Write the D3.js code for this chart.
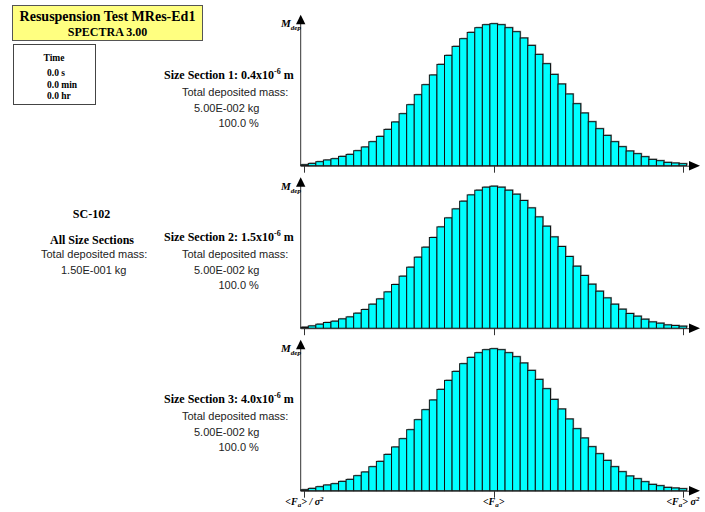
<!DOCTYPE html>
<html>
<head>
  <meta charset="utf-8">
  <title>Resuspension Test MRes-Ed1</title>
  <script src="https://d3js.org/d3.v7.min.js"></script>
  <style>
    body { margin: 0; background: #fff; }
    .serif { font-family: "Liberation Serif", "Times New Roman", serif; font-weight: bold; fill: #000; }
    .sans { font-family: "Liberation Sans", Arial, sans-serif; font-size: 11px; fill: #222; }
    .bar { fill: #00ffff; stroke: #111; stroke-width: 1px; }
    .shadow { fill: #999; }
    .axis { stroke: #333; stroke-width: 1px; }
  </style>
</head>
<body>
  <div id="chart"></div>
  <script>
    // bins of the distribution (51 classes), same shape for all three sections
    const bins = d3.range(51);
    const section1 = [1, 2.3, 4, 5.7, 7, 9.3, 11.3, 15, 18.7, 24, 29.3, 36.3, 43.7, 52, 61, 71, 81, 90.7, 101.3, 110.3,
      119.3, 127, 133.3, 138, 141, 142, 141, 138, 134, 127.7, 120.3, 111.3, 102, 91.3, 81.7, 71.7, 62, 52.7, 44, 37,
      30.3, 24, 19, 14.7, 12, 9, 6.3, 5, 3.3, 2.7, 2];
    const section2 = section1.slice();
    const section3 = section1.slice();
    const sectionValues = [section1, section2, section3];
    const sectionTitles = ["Size Section 1: 0.4x10", "Size Section 2: 1.5x10", "Size Section 3: 4.0x10"];
    const sectionMass = ["5.00E-002 kg", "5.00E-002 kg", "5.00E-002 kg"];
    const sectionPct = ["100.0 %", "100.0 %", "100.0 %"];
    const tickBins = [0, 25, 50];
    const tickLabels = [["<F", "a", "> / σ", "2"], ["<F", "a", ">", ""], ["<F", "a", "> σ", "2"]];
    const timeLines = ["0.0 s", "0.0 min", "0.0 hr"];

    const width = 705, height = 512;
    const svg = d3.select("#chart").append("svg")
      .attr("width", width).attr("height", height);

    // title box
    svg.append("rect").attr("x", 12.5).attr("y", 5.5).attr("width", 190).attr("height", 35)
      .attr("fill", "#ffff80").attr("stroke", "#555");
    svg.append("text").attr("class", "serif").attr("x", 107.5).attr("y", 21)
      .attr("text-anchor", "middle").style("font-size", "14px").text("Resuspension Test MRes-Ed1");
    svg.append("text").attr("class", "serif").attr("x", 107.5).attr("y", 36)
      .attr("text-anchor", "middle").style("font-size", "12px").text("SPECTRA 3.00");

    // time box
    svg.append("rect").attr("x", 13.5).attr("y", 44.5).attr("width", 82).attr("height", 60)
      .attr("fill", "#fff").attr("stroke", "#444");
    svg.append("text").attr("class", "serif").attr("x", 54).attr("y", 60.5)
      .attr("text-anchor", "middle").style("font-size", "9.5px").text("Time");
    timeLines.forEach((t, i) => {
      svg.append("text").attr("class", "serif").attr("x", 47).attr("y", 76 + i * 11.5)
        .style("font-size", "9.5px").text(t);
    });

    // overall summary
    svg.append("text").attr("class", "serif").attr("x", 91.5).attr("y", 217.5)
      .attr("text-anchor", "middle").style("font-size", "12px").text("SC-102");
    svg.append("text").attr("class", "serif").attr("x", 92).attr("y", 243.5)
      .attr("text-anchor", "middle").style("font-size", "12px").text("All Size Sections");
    svg.append("text").attr("class", "sans").attr("x", 41).attr("y", 257.5).text("Total deposited mass:");
    svg.append("text").attr("class", "sans").attr("x", 61).attr("y", 273.5).text("1.50E-001 kg");

    const x = d3.scaleBand().domain(bins).range([300.7, 686.7]).padding(0);
    const panelStep = 162.5;

    sectionValues.forEach((vals, p) => {
      const base = 165.7 + p * panelStep;
      const y = d3.scaleLinear().domain([0, 142]).range([base, base - 142]);
      const g = svg.append("g");
      const dy = p * 162;

      // section labels
      const t = g.append("text").attr("class", "serif").attr("x", 164).attr("y", 79 + dy)
        .style("font-size", "12px");
      t.append("tspan").text(sectionTitles[p]);
      t.append("tspan").attr("dy", -5).style("font-size", "8px").text("-6");
      t.append("tspan").attr("dy", 5).text(" m");
      g.append("text").attr("class", "sans").attr("x", 182).attr("y", 96 + dy).text("Total deposited mass:");
      g.append("text").attr("class", "sans").attr("x", 194).attr("y", 112 + dy).text(sectionMass[p]);
      g.append("text").attr("class", "sans").attr("x", 218.5).attr("y", 126.5 + dy).text(sectionPct[p]);

      // bars with a light shadow
      g.selectAll(".shadow").data(bins).enter().append("rect")
        .attr("class", "shadow")
        .attr("x", d => x(d) + 1).attr("y", d => y(vals[d]) - 1)
        .attr("width", x.bandwidth()).attr("height", d => base - y(vals[d]));
      g.selectAll(".bar").data(bins).enter().append("rect")
        .attr("class", "bar")
        .attr("x", d => x(d)).attr("y", d => y(vals[d]))
        .attr("width", x.bandwidth()).attr("height", d => base - y(vals[d]));

      // axes
      const x0 = x.range()[0];
      g.append("line").attr("class", "axis").attr("x1", x0).attr("x2", x0)
        .attr("y1", base).attr("y2", y(142) - 1);
      g.append("path").attr("d", `M${x0},${base - 151}L${x0 - 4.7},${base - 141.5}L${x0 + 4.7},${base - 141.5}Z`)
        .attr("fill", "#000");
      g.append("line").attr("class", "axis").attr("x1", x0).attr("x2", 690)
        .attr("y1", base + 0.5).attr("y2", base + 0.5);
      g.append("path").attr("d", `M700,${base}L689,${base - 4.7}L689,${base + 4.7}Z`).attr("fill", "#000");

      tickBins.forEach(b => {
        const cx = Math.round(x(b) + x.bandwidth() / 2) + 0.5;
        g.append("line").attr("class", "axis").attr("x1", cx).attr("x2", cx)
          .attr("y1", base).attr("y2", base + 7);
      });

      // y label M_dep
      const m = g.append("text").attr("class", "serif").attr("x", 281).attr("y", base - 138.5)
        .style("font-style", "italic").style("font-size", "11px");
      m.append("tspan").text("M");
      m.append("tspan").attr("dy", 3).style("font-size", "7px").text("dep");

      if (p === 2) {
        tickBins.forEach((b, i) => {
          const cx = x(b) + x.bandwidth() / 2;
          const lab = g.append("text").attr("class", "serif").attr("x", cx).attr("y", base + 14)
            .attr("text-anchor", "middle").style("font-style", "italic").style("font-size", "10px");
          const parts = tickLabels[i];
          lab.append("tspan").text(parts[0]);
          lab.append("tspan").attr("dy", 2.5).style("font-size", "7px").text(parts[1]);
          lab.append("tspan").attr("dy", -2.5).text(parts[2]);
          if (parts[3]) lab.append("tspan").attr("dy", -4).style("font-size", "7px").text(parts[3]);
        });
      }
    });
  </script>
</body>
</html>
